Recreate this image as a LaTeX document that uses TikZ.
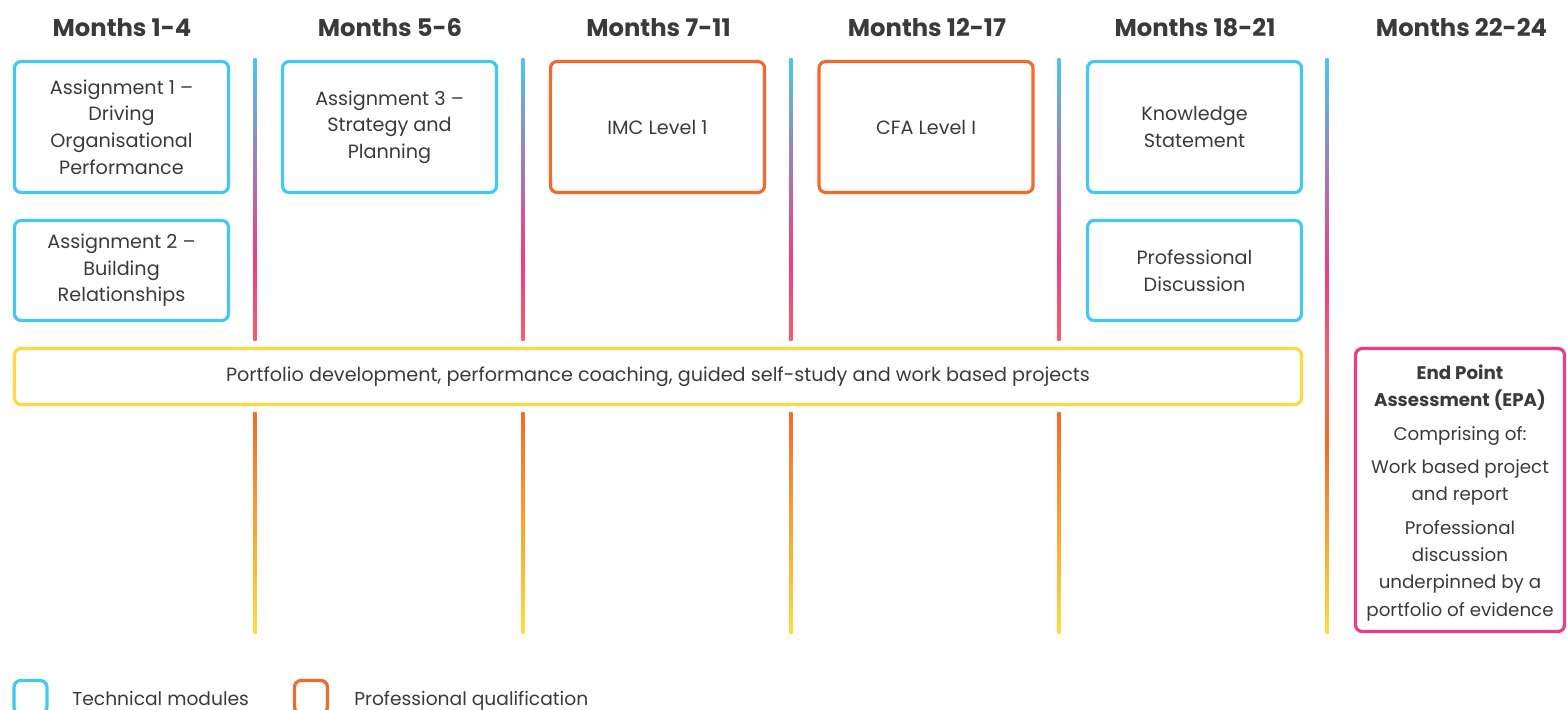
\documentclass[tikz,border=0pt]{standalone}
\usepackage{fontspec}
\setmainfont{Poppins}
\definecolor{tblue}{HTML}{42C8F5}
\definecolor{torange}{HTML}{F26A2C}
\definecolor{tyellow}{HTML}{FFD944}
\definecolor{tpink}{HTML}{EC3C86}
\definecolor{ttext}{HTML}{3A3A3A}
\definecolor{lblue}{HTML}{4CC4F2}
\definecolor{lpink}{HTML}{F03C82}
\definecolor{lred}{HTML}{F4606A}
\definecolor{lorange}{HTML}{F46A2A}
\definecolor{lamber}{HTML}{F8A233}
\definecolor{lyellow}{HTML}{FDDD42}
\pgfdeclareverticalshading{upline}{100bp}{color(0bp)=(lred); color(25bp)=(lred); color(39.5bp)=(lpink); color(75bp)=(lblue); color(100bp)=(lblue)}
\pgfdeclareverticalshading{lowline}{100bp}{color(0bp)=(lyellow); color(25bp)=(lyellow); color(50bp)=(lamber); color(75bp)=(lorange); color(100bp)=(lorange)}
\pgfdeclareverticalshading{fullline}{100bp}{color(0bp)=(lyellow); color(25bp)=(lyellow); color(41.5bp)=(lorange); color(49bp)=(lred); color(56.3bp)=(lpink); color(75bp)=(lblue); color(100bp)=(lblue)}
\def\px{0.75pt}
\tikzset{
  x=0.75pt, y=-0.75pt,
  every node/.style={text=ttext, font=\fontsize{14.4pt}{20pt}\selectfont},
  card/.style={draw, line width=2.4pt, rounded corners=5pt, align=center, inner sep=0pt},
  techbox/.style={card, draw=tblue},
  profbox/.style={card, draw=torange},
  portbox/.style={card, draw=tyellow},
  epabox/.style={card, draw=tpink},
  header/.style={anchor=base, inner sep=0pt, font=\fontsize{18.2pt}{20pt}\selectfont\bfseries},
  legtext/.style={anchor=base west, inner sep=0pt, font=\fontsize{14pt}{18pt}\selectfont},
}
\begin{document}
\begin{tikzpicture}
\useasboundingbox (0,0) rectangle (1567,710);
% headers
\foreach \n/\x/\t in {h1/122/Months 1-4, h2/390/Months 5-6, h3/658.5/Months 7-11, h4/927/Months 12-17, h5/1195/Months 18-21, h6/1461.5/Months 22-24}
  \node[header] (\n) at (\x,37) {\t};
% separator lines
\foreach \x in {255,523,791,1059}{
  \shade[shading=upline] (\x-1.7,59) rectangle (\x+1.7,340);
  \shade[shading=lowline] (\x-1.7,412) rectangle (\x+1.7,633);
}
\shade[shading=fullline] (1327-1.7,59) rectangle (1327+1.7,633);
% boxes
\node[techbox, minimum width=214*\px, minimum height=131*\px] (a1) at (121.5,127) {Assignment 1 –\\Driving\\Organisational\\Performance};
\node[techbox, minimum width=214*\px, minimum height=100*\px] (a2) at (121.5,270.5) {Assignment 2 –\\Building\\Relationships};
\node[techbox, minimum width=214*\px, minimum height=131*\px] (a3) at (389.5,127) {Assignment 3 –\\Strategy and\\Planning};
\node[profbox, minimum width=214*\px, minimum height=131*\px] (imc) at (657.5,127) {IMC Level 1};
\node[profbox, minimum width=214*\px, minimum height=131*\px] (cfa) at (926,127) {CFA Level I};
\node[techbox, minimum width=214*\px, minimum height=131*\px] (ks) at (1194.5,127) {Knowledge\\Statement};
\node[techbox, minimum width=214*\px, minimum height=100*\px] (pd) at (1194.5,270.5) {Professional\\Discussion};
\node[portbox, minimum width=1287*\px, minimum height=56*\px] (port) at (658,376.5) {Portfolio development, performance coaching, guided self-study and work based projects};
\node[epabox, minimum width=209*\px, minimum height=283*\px] (epa) at (1460,490) {};
\node[align=center, font=\fontsize{13.7pt}{20.5pt}\selectfont] (epatext) at (1460,493) {\textbf{End Point}\\\textbf{Assessment (EPA)}\\[4.5pt]Comprising of:\\[4.5pt]Work based project\\and report\\[4.5pt]Professional\\discussion\\underpinned by a\\portfolio of evidence};
% legend
\node[techbox, minimum width=33*\px, minimum height=33*\px] (legtech) at (30.5,697) {};
\node[legtext] (legtechtext) at (72,705) {Technical modules};
\node[profbox, minimum width=33*\px, minimum height=33*\px] (legprof) at (311,697) {};
\node[legtext] (legproftext) at (354,705) {Professional qualification};
\end{tikzpicture}
\end{document}
